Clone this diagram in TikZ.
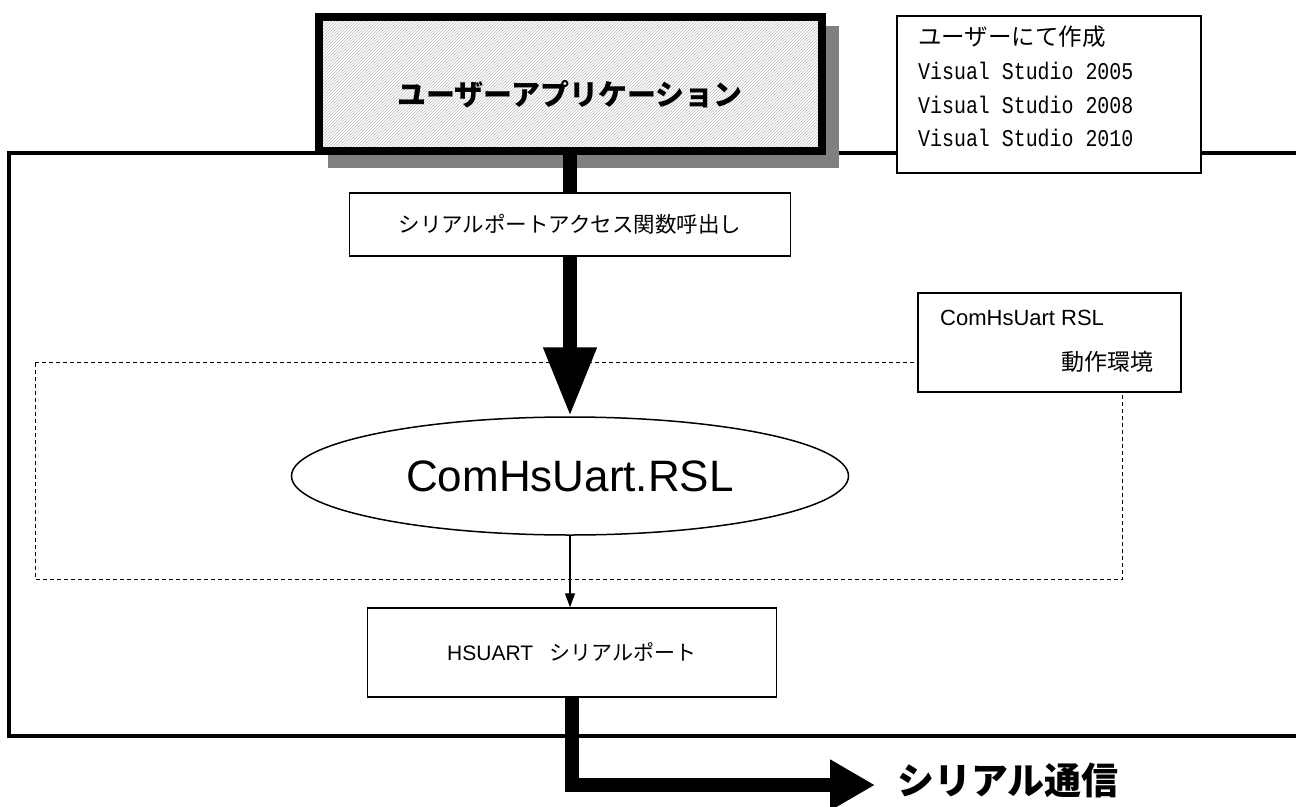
\documentclass[tikz,border=0pt]{standalone}
\usepackage{fontspec}
\setmainfont{Liberation Sans}
\newfontfamily\jp{Noto Sans CJK JP}
\newfontfamily\mono[FakeStretch=0.83]{Liberation Mono}
\usetikzlibrary{arrows.meta,patterns,shapes.geometric}
\begin{document}
\begin{tikzpicture}[x=1pt,y=-1pt,
  plainbox/.style={draw, line width=1.5pt, fill=white, inner sep=0pt},
  appbox/.style={draw, line width=8pt, inner sep=0pt, preaction={fill=white},
     pattern=north east lines, pattern color=black!25},
  bigarrow/.style={line width=14pt},
  thinarrow/.style={line width=1.3pt, -{Triangle[length=14pt 0 1, width=10pt 0 1]}},
  txt/.style={inner sep=0pt}
]
\clip (0,0) rectangle (1296,806);
\fill[white] (0,0) rectangle (1296,806);

% outer frame
\draw[line width=3.5pt] (9,153) rectangle (1330,736);
% dashed environment frame
\draw[line width=1pt, dash pattern=on 4pt off 3pt] (35,362.7) rectangle (1122.7,579);

% user application box with shadow
\fill[black!50] (328,26) rectangle (839,168);
\node[appbox, minimum width=503pt, minimum height=134pt] (app) at (570,84) {};
\node[txt, font=\jp\bfseries\fontsize{29}{34}\selectfont] (apptitle) at (570,94) {ユーザーアプリケーション};

% info box
\node[plainbox, minimum width=304pt, minimum height=157pt] (info) at (1049,94.5) {};
\node[txt, anchor=west, font=\jp\fontsize{23.5}{28}\selectfont] (i1) at (918,37) {ユーザーにて作成};
\node[txt, anchor=west, font=\mono\fontsize{24}{28}\selectfont] (i2) at (918,71) {Visual Studio 2005};
\node[txt, anchor=west, font=\mono\fontsize{24}{28}\selectfont] (i3) at (918,105) {Visual Studio 2008};
\node[txt, anchor=west, font=\mono\fontsize{24}{28}\selectfont] (i4) at (918,138) {Visual Studio 2010};

% ellipse
\node[ellipse, draw, line width=1.5pt, fill=white, inner sep=0pt,
  minimum width=557pt, minimum height=118pt,
  font=\fontsize{44}{52}\selectfont] (ell) at (570,476) {ComHsUart.RSL};

% thick arrow from app to ellipse
\draw[bigarrow, -{Triangle[length=69pt 0 1, width=50pt 0 1]}] (app.south) -- (ell.north);

% call label box
\node[plainbox, minimum width=441pt, minimum height=63pt,
  font=\jp\fontsize{21.5}{26}\selectfont] (call) at (570,224.5) {シリアルポートアクセス関数呼出し};

% environment label box
\node[plainbox, minimum width=263pt, minimum height=99pt] (env) at (1049.5,342.5) {};
\node[txt, anchor=west, font=\fontsize{22}{26}\selectfont] (e1) at (940,318) {ComHsUart RSL};
\node[txt, anchor=east, font=\jp\fontsize{23}{28}\selectfont] (e2) at (1154,362) {動作環境};

% HSUART box
\node[plainbox, minimum width=409pt, minimum height=89pt] (hs) at (572,652.5) {};
\node[txt, font=\fontsize{21}{26}\selectfont] (hstext) at (572,652) {HSUART\hspace{0.8em}{\jp シリアルポート}};

% thin arrow ellipse -> HSUART
\draw[thinarrow] (ell.south) -- (ell.south |- hs.north);

% output arrow
\coordinate (tip) at (875,785);
\draw[bigarrow, -{Triangle[length=45pt 0 1, width=48pt 0 1]}] (hs.south) |- (tip);
\node[txt, anchor=west, font=\jp\bfseries\fontsize{37}{44}\selectfont] (serial) at (897,780) {シリアル通信};
\end{tikzpicture}
\end{document}
